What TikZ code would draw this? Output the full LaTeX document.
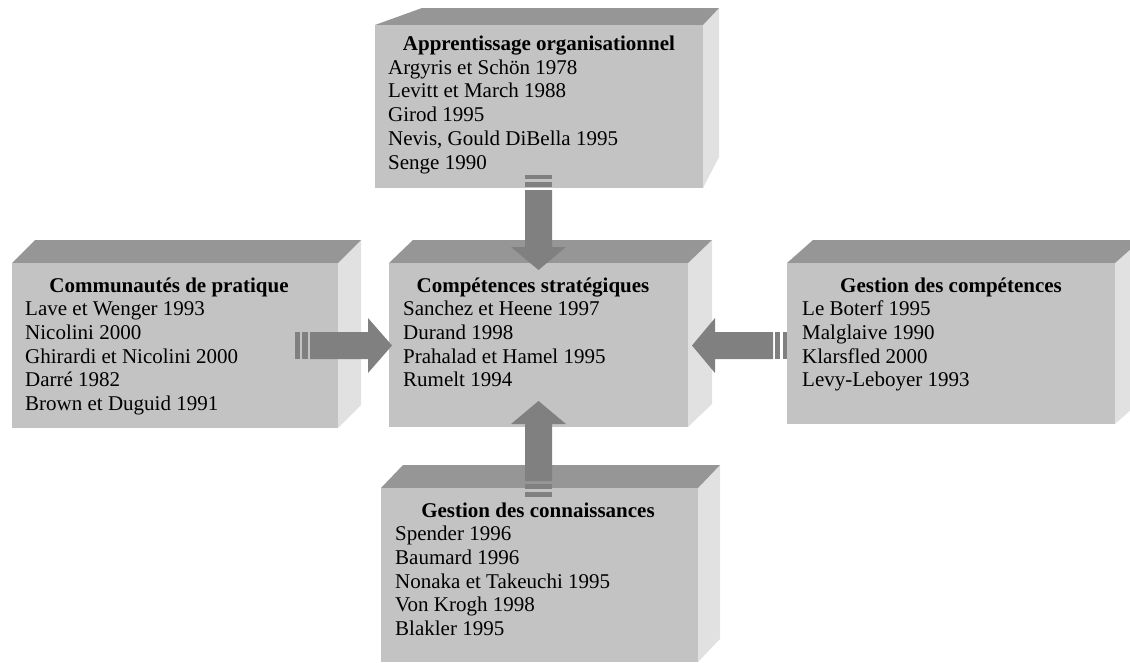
\documentclass[tikz,border=0pt]{standalone}
\usepackage{fontspec}
\setmainfont{Liberation Serif}
\definecolor{frontc}{RGB}{195,195,195}
\definecolor{topc}{RGB}{150,150,150}
\definecolor{sidec}{RGB}{225,225,225}
\definecolor{arrowc}{RGB}{128,128,128}
\tikzset{
  frontface/.style={fill=frontc, draw=none, inner sep=0pt, anchor=north west},
  topface/.style={fill=topc},
  sideface/.style={fill=sidec},
  blockarrow/.style={fill=arrowc},
  boxtitle/.style={font=\fontsize{21}{24}\selectfont\bfseries, inner sep=0pt, anchor=base},
  boxitem/.style={font=\fontsize{21}{24}\selectfont, inner sep=0pt, anchor=base west},
}
% name, x1, y1, x2, y2, dx, dy
\newcommand\cubebox[7]{%
  \fill[sideface] (#4,#3) -- (#4+#6,#3-#7) -- (#4+#6,#5-#7) -- (#4,#5) -- cycle;
  \fill[topface] (#2,#3) -- (#2+#6,#3-#7) -- (#4+#6,#3-#7) -- (#4,#3) -- cycle;
  \node[frontface, minimum width=#4pt-#2pt, minimum height=#5pt-#3pt] (#1) at (#2,#3) {};
}
\begin{document}
\begin{tikzpicture}[x=1pt,y=-1pt]
\useasboundingbox (0,0) rectangle (1130,662);
\clip (0,0) rectangle (1130,662);

% boxes
% top box (seen in perspective)
\fill[sideface] (703,25) -- (719,8) -- (719,157) -- (703,188) -- cycle;
\fill[topface] (375,25) -- (422,8) -- (719,8) -- (703,25) -- cycle;
\node[frontface, minimum width=328pt, minimum height=163pt] (app) at (375,25) {};
\cubebox{com}{12}{263}{338}{428}{23}{23}
\cubebox{cs}{389}{263}{688}{427}{24}{23}
\cubebox{gc}{787}{263}{1115}{424}{26}{23}
\cubebox{gk}{381}{488}{698}{662}{22}{23}

% texts: Apprentissage organisationnel
\node[boxtitle] (appt) at (539,50.5) {Apprentissage organisationnel};
\node[boxitem] (app1) at (388,74.2) {Argyris et Schön 1978};
\node[boxitem] (app2) at (388,97.9) {Levitt et March 1988};
\node[boxitem] (app3) at (388,121.6) {Girod 1995};
\node[boxitem] (app4) at (388,145.3) {Nevis, Gould DiBella 1995};
\node[boxitem] (app5) at (388,169) {Senge 1990};

% Communautés de pratique
\node[boxtitle] (comt) at (169,292) {Communautés de pratique};
\node[boxitem] (com1) at (25,315.7) {Lave et Wenger 1993};
\node[boxitem] (com2) at (25,339.4) {Nicolini 2000};
\node[boxitem] (com3) at (25,363.1) {Ghirardi et Nicolini 2000};
\node[boxitem] (com4) at (25,386.8) {Darré 1982};
\node[boxitem] (com5) at (25,410.5) {Brown et Duguid 1991};

% Compétences stratégiques
\node[boxtitle] (cst) at (533,292) {Compétences stratégiques};
\node[boxitem] (cs1) at (403,315.7) {Sanchez et Heene 1997};
\node[boxitem] (cs2) at (403,339.4) {Durand 1998};
\node[boxitem] (cs3) at (403,363.1) {Prahalad et Hamel 1995};
\node[boxitem] (cs4) at (403,386.8) {Rumelt 1994};

% Gestion des compétences
\node[boxtitle] (gct) at (951,292) {Gestion des compétences};
\node[boxitem] (gc1) at (802,315.7) {Le Boterf 1995};
\node[boxitem] (gc2) at (802,339.4) {Malglaive 1990};
\node[boxitem] (gc3) at (802,363.1) {Klarsfled 2000};
\node[boxitem] (gc4) at (802,386.8) {Levy-Leboyer 1993};

% Gestion des connaissances
\node[boxtitle] (gkt) at (538,517) {Gestion des connaissances};
\node[boxitem] (gk1) at (395,540.7) {Spender 1996};
\node[boxitem] (gk2) at (395,564.4) {Baumard 1996};
\node[boxitem] (gk3) at (395,588.1) {Nonaka et Takeuchi 1995};
\node[boxitem] (gk4) at (395,611.8) {Von Krogh 1998};
\node[boxitem] (gk5) at (395,635.5) {Blakler 1995};

% arrow: top -> centre (down)
\fill[blockarrow] (525,175) rectangle (552,179);
\fill[blockarrow] (525,182) rectangle (552,187);
\fill[blockarrow] (525,190) -- (552,190) -- (552,247) -- (566,247) -- (538.5,270)
  -- (511,247) -- (525,247) -- cycle;

% arrow: bottom -> centre (up)
\fill[blockarrow] (525,492) rectangle (552,497);
\fill[blockarrow] (525,484) rectangle (552,489);
\fill[blockarrow] (525,481) -- (552,481) -- (552,424) -- (566,424) -- (538.5,401)
  -- (511,424) -- (525,424) -- cycle;

% arrow: left -> centre (right)
\fill[blockarrow] (295,332) rectangle (300,359);
\fill[blockarrow] (302,332) rectangle (308,359);
\fill[blockarrow] (310,332) -- (368,332) -- (368,318) -- (392,345.5) -- (368,373)
  -- (368,359) -- (310,359) -- cycle;

% arrow: right -> centre (left)
\fill[blockarrow] (783,332) rectangle (787,359);
\fill[blockarrow] (775,332) rectangle (780,359);
\fill[blockarrow] (773,332) -- (715,332) -- (715,318) -- (692,345.5) -- (715,373)
  -- (715,359) -- (773,359) -- cycle;
\end{tikzpicture}
\end{document}
